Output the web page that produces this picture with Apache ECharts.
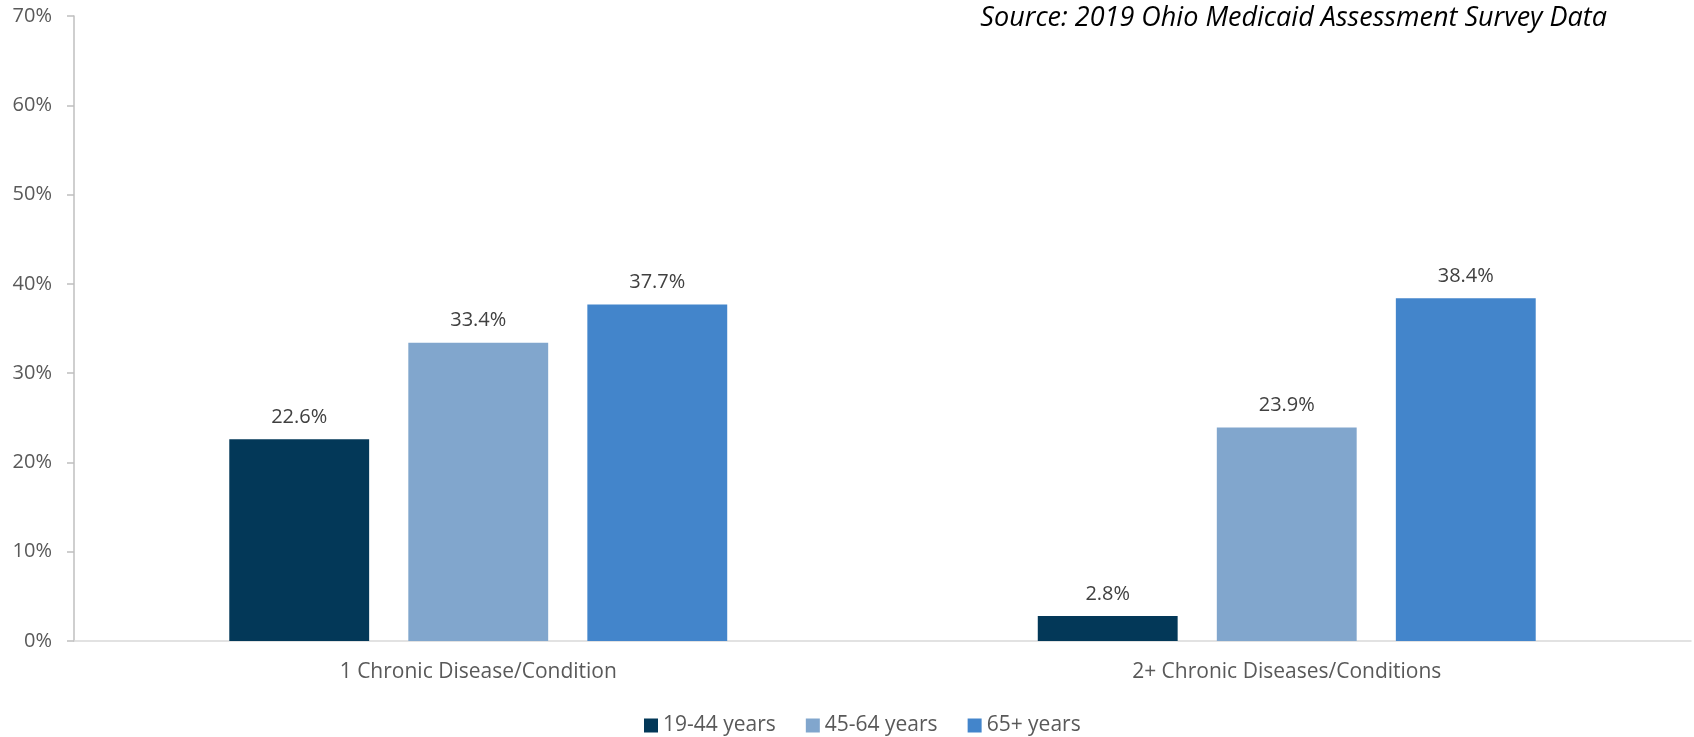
<!DOCTYPE html>
<html>
<head>
<meta charset="utf-8">
<script src="https://cdn.jsdelivr.net/npm/echarts@6/dist/echarts.min.js"></script>
<style>
html,body{margin:0;padding:0;background:#fff;}
#chart{width:1694px;height:737px;}
</style>
</head>
<body>
<div id="chart"></div>
<script>
const categories = ['1 Chronic Disease/Condition', '2+ Chronic Diseases/Conditions'];
const seriesNames = ['19-44 years', '45-64 years', '65+ years'];
const values1944 = [22.6, 2.8];
const values4564 = [33.4, 23.9];
const values65 = [37.7, 38.4];
const yTicks = [0, 10, 20, 30, 40, 50, 60, 70];
const sourceText = 'Source: 2019 Ohio Medicaid Assessment Survey Data';

const colors = ['#033858', '#81A6CD', '#4385CB'];
const font = 'Open Sans';
const dataSets = [values1944, values4564, values65];

const chart = echarts.init(document.getElementById('chart'));
chart.setOption({
  animation: false,
  textStyle: { fontFamily: font },
  title: {
    text: sourceText,
    right: 82,
    top: 0,
    textStyle: { fontFamily: font, fontStyle: 'italic', fontWeight: 'normal', fontSize: 27, color: '#000' }
  },
  legend: {
    data: seriesNames,
    top: 710,
    left: 639,
    itemWidth: 14,
    itemHeight: 14,
    itemGap: 30,
    icon: 'rect',
    textStyle: { fontFamily: font, fontSize: 21, color: '#595959' }
  },
  grid: { left: 74, right: 3, top: 16, bottom: 96, containLabel: false },
  xAxis: {
    type: 'category',
    data: categories,
    axisLine: { lineStyle: { color: '#D9D9D9', width: 1.5 } },
    axisTick: { show: false },
    axisLabel: { fontFamily: font, fontSize: 21, color: '#595959', margin: 21 }
  },
  yAxis: {
    type: 'value',
    min: yTicks[0],
    max: yTicks[yTicks.length - 1],
    interval: 10,
    axisLine: { show: true, lineStyle: { color: '#BFBFBF', width: 1.5 } },
    axisTick: { show: true, length: 7, lineStyle: { color: '#BFBFBF', width: 1.5 } },
    splitLine: { show: false },
    axisLabel: { fontFamily: font, fontSize: 20, color: '#595959', margin: 22, formatter: v => v + '%' }
  },
  series: seriesNames.map((name, i) => ({
    name: name,
    type: 'bar',
    data: dataSets[i],
    barWidth: '17.3%',
    barGap: '28%',
    itemStyle: { color: colors[i] },
    label: {
      show: true,
      position: 'top',
      distance: 12,
      fontFamily: font,
      fontSize: 20,
      color: '#404040',
      formatter: p => p.value.toFixed(1) + '%'
    }
  }))
});
</script>
</body>
</html>
